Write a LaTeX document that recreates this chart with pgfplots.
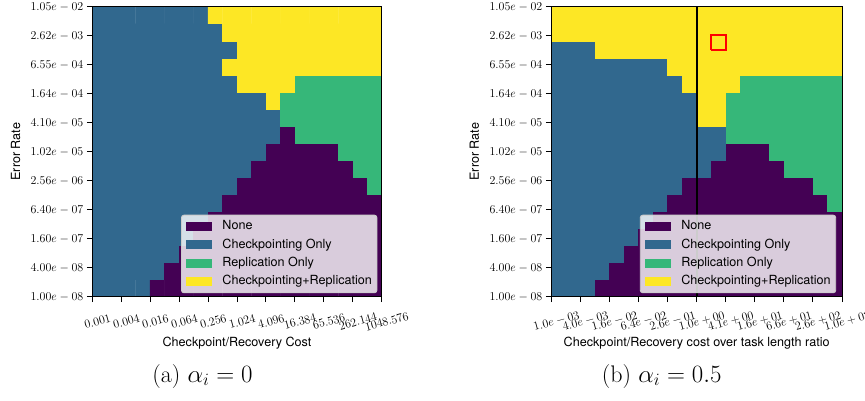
\documentclass[border=0pt]{standalone}
\usepackage{fontspec}
\usepackage{pgfplots}
\pgfplotsset{compat=1.18}
\newfontfamily\helv{TeX Gyre Heros}
\definecolor{vP}{RGB}{68,1,84}
\definecolor{vB}{RGB}{49,104,142}
\definecolor{vG}{RGB}{53,183,121}
\definecolor{vY}{RGB}{253,231,37}
\definecolor{legedge}{RGB}{204,204,204}
\newcommand{\tickfont}{\fontsize{12.4}{14}\selectfont}
\newcommand{\xtickfont}{\fontsize{12}{14}\selectfont}
\newcommand{\labfont}{\helv\fontsize{12.6}{15}\selectfont}

\pgfplotsset{
  heat/.style={
    scale only axis, height=290pt,
    xmin=-0.5, xmax=19.5, ymin=-0.5, ymax=16.5,
    axis on top,
    xtick={-0.5,1.5,3.5,5.5,7.5,9.5,11.5,13.5,15.5,17.5,19.5},
    ytick={-0.5,1.2,2.9,4.6,6.3,8.0,9.7,11.4,13.1,14.8,16.5},
    yticklabels={$1.00e-08$,$4.00e-08$,$1.60e-07$,$6.40e-07$,$2.56e-06$,$1.02e-05$,$4.10e-05$,$1.64e-04$,$6.55e-04$,$2.62e-03$,$1.05e-02$},
    tick align=outside, tick pos=left,
    major tick length=5.5pt,
    every tick/.style={black, line width=0.9pt},
    axis line style={black, line width=0.9pt},
    yticklabel style={font=\tickfont},
    xticklabel style={font=\xtickfont, rotate=15, anchor=center, yshift=-20pt},
    ylabel={Error Rate},
    ylabel style={font=\labfont, at={(axis description cs:-0.265,0.5)}, anchor=center},
    xlabel style={font=\labfont, at={(axis description cs:0.5,-0.1607)}, anchor=center},
    colormap={vir4}{rgb255=(68,1,84) rgb255=(49,104,142) rgb255=(53,183,121) rgb255=(253,231,37)},
    point meta min=0, point meta max=3,
    legend style={anchor=south east, fill=white, fill opacity=0.8, draw opacity=1, text opacity=1,
      draw=legedge, rounded corners=2.5pt, line width=0.9pt,
      inner xsep=0pt, inner ysep=2.2pt, row sep=0pt,
      nodes={inner xsep=5pt, inner ysep=3.4pt, text height=9pt, text depth=2.5pt},
      font=\labfont},
    legend cell align=left,
    legend image code/.code={\path[draw=none, fill=none] (0pt,-0.1pt) rectangle (36pt,0.1pt);\fill[#1, draw=none, fill opacity=1, sharp corners] (5pt,-4.6pt) rectangle (31pt,4.6pt);},
  }
}

\begin{document}
\begin{tikzpicture}
\path[use as bounding box] (0,0) rectangle (865pt,-401pt);

\begin{axis}[heat, at={(92.3pt,-296.7pt)}, anchor=south west, width=289.4pt,
  xticklabels={$0.001$,$0.004$,$0.016$,$0.064$,$0.256$,$1.024$,$4.096$,$16.384$,$65.536$,$262.144$,$1048.576$},
  xlabel={Checkpoint/Recovery Cost},
  legend style={at={(0.985,0.012)}}]
\addplot[matrix plot*, mesh/cols=20, point meta=explicit, forget plot] coordinates {
(0,0)[1] (1,0)[1] (2,0)[1] (3,0)[1] (4,0)[0] (5,0)[0] (6,0)[0] (7,0)[0] (8,0)[0] (9,0)[0] (10,0)[0] (11,0)[0] (12,0)[0] (13,0)[0] (14,0)[0] (15,0)[0] (16,0)[0] (17,0)[0] (18,0)[0] (19,0)[0]
(0,1)[1] (1,1)[1] (2,1)[1] (3,1)[1] (4,1)[1] (5,1)[0] (6,1)[0] (7,1)[0] (8,1)[0] (9,1)[0] (10,1)[0] (11,1)[0] (12,1)[0] (13,1)[0] (14,1)[0] (15,1)[0] (16,1)[0] (17,1)[0] (18,1)[0] (19,1)[0]
(0,2)[1] (1,2)[1] (2,2)[1] (3,2)[1] (4,2)[1] (5,2)[1] (6,2)[0] (7,2)[0] (8,2)[0] (9,2)[0] (10,2)[0] (11,2)[0] (12,2)[0] (13,2)[0] (14,2)[0] (15,2)[0] (16,2)[0] (17,2)[0] (18,2)[0] (19,2)[0]
(0,3)[1] (1,3)[1] (2,3)[1] (3,3)[1] (4,3)[1] (5,3)[1] (6,3)[1] (7,3)[0] (8,3)[0] (9,3)[0] (10,3)[0] (11,3)[0] (12,3)[0] (13,3)[0] (14,3)[0] (15,3)[0] (16,3)[0] (17,3)[0] (18,3)[0] (19,3)[0]
(0,4)[1] (1,4)[1] (2,4)[1] (3,4)[1] (4,4)[1] (5,4)[1] (6,4)[1] (7,4)[1] (8,4)[0] (9,4)[0] (10,4)[0] (11,4)[0] (12,4)[0] (13,4)[0] (14,4)[0] (15,4)[0] (16,4)[0] (17,4)[0] (18,4)[0] (19,4)[0]
(0,5)[1] (1,5)[1] (2,5)[1] (3,5)[1] (4,5)[1] (5,5)[1] (6,5)[1] (7,5)[1] (8,5)[1] (9,5)[0] (10,5)[0] (11,5)[0] (12,5)[0] (13,5)[0] (14,5)[0] (15,5)[0] (16,5)[0] (17,5)[0] (18,5)[0] (19,5)[0]
(0,6)[1] (1,6)[1] (2,6)[1] (3,6)[1] (4,6)[1] (5,6)[1] (6,6)[1] (7,6)[1] (8,6)[1] (9,6)[1] (10,6)[0] (11,6)[0] (12,6)[0] (13,6)[0] (14,6)[0] (15,6)[0] (16,6)[0] (17,6)[0] (18,6)[0] (19,6)[2]
(0,7)[1] (1,7)[1] (2,7)[1] (3,7)[1] (4,7)[1] (5,7)[1] (6,7)[1] (7,7)[1] (8,7)[1] (9,7)[1] (10,7)[1] (11,7)[0] (12,7)[0] (13,7)[0] (14,7)[0] (15,7)[0] (16,7)[0] (17,7)[0] (18,7)[2] (19,7)[2]
(0,8)[1] (1,8)[1] (2,8)[1] (3,8)[1] (4,8)[1] (5,8)[1] (6,8)[1] (7,8)[1] (8,8)[1] (9,8)[1] (10,8)[1] (11,8)[1] (12,8)[0] (13,8)[0] (14,8)[0] (15,8)[0] (16,8)[0] (17,8)[2] (18,8)[2] (19,8)[2]
(0,9)[1] (1,9)[1] (2,9)[1] (3,9)[1] (4,9)[1] (5,9)[1] (6,9)[1] (7,9)[1] (8,9)[1] (9,9)[1] (10,9)[1] (11,9)[1] (12,9)[1] (13,9)[0] (14,9)[2] (15,9)[2] (16,9)[2] (17,9)[2] (18,9)[2] (19,9)[2]
(0,10)[1] (1,10)[1] (2,10)[1] (3,10)[1] (4,10)[1] (5,10)[1] (6,10)[1] (7,10)[1] (8,10)[1] (9,10)[1] (10,10)[1] (11,10)[1] (12,10)[1] (13,10)[2] (14,10)[2] (15,10)[2] (16,10)[2] (17,10)[2] (18,10)[2] (19,10)[2]
(0,11)[1] (1,11)[1] (2,11)[1] (3,11)[1] (4,11)[1] (5,11)[1] (6,11)[1] (7,11)[1] (8,11)[1] (9,11)[1] (10,11)[1] (11,11)[1] (12,11)[3] (13,11)[2] (14,11)[2] (15,11)[2] (16,11)[2] (17,11)[2] (18,11)[2] (19,11)[2]
(0,12)[1] (1,12)[1] (2,12)[1] (3,12)[1] (4,12)[1] (5,12)[1] (6,12)[1] (7,12)[1] (8,12)[1] (9,12)[1] (10,12)[3] (11,12)[3] (12,12)[3] (13,12)[3] (14,12)[2] (15,12)[2] (16,12)[2] (17,12)[2] (18,12)[2] (19,12)[2]
(0,13)[1] (1,13)[1] (2,13)[1] (3,13)[1] (4,13)[1] (5,13)[1] (6,13)[1] (7,13)[1] (8,13)[1] (9,13)[3] (10,13)[3] (11,13)[3] (12,13)[3] (13,13)[3] (14,13)[3] (15,13)[3] (16,13)[3] (17,13)[3] (18,13)[3] (19,13)[3]
(0,14)[1] (1,14)[1] (2,14)[1] (3,14)[1] (4,14)[1] (5,14)[1] (6,14)[1] (7,14)[1] (8,14)[1] (9,14)[1] (10,14)[3] (11,14)[3] (12,14)[3] (13,14)[3] (14,14)[3] (15,14)[3] (16,14)[3] (17,14)[3] (18,14)[3] (19,14)[3]
(0,15)[1] (1,15)[1] (2,15)[1] (3,15)[1] (4,15)[1] (5,15)[1] (6,15)[1] (7,15)[1] (8,15)[1] (9,15)[3] (10,15)[3] (11,15)[3] (12,15)[3] (13,15)[3] (14,15)[3] (15,15)[3] (16,15)[3] (17,15)[3] (18,15)[3] (19,15)[3]
(0,16)[1] (1,16)[1] (2,16)[1] (3,16)[1] (4,16)[1] (5,16)[1] (6,16)[1] (7,16)[1] (8,16)[3] (9,16)[3] (10,16)[3] (11,16)[3] (12,16)[3] (13,16)[3] (14,16)[3] (15,16)[3] (16,16)[3] (17,16)[3] (18,16)[3] (19,16)[3]
};
\addlegendimage{fill=vP}\addlegendentry{None}
\addlegendimage{fill=vB}\addlegendentry{Checkpointing Only}
\addlegendimage{fill=vG}\addlegendentry{Replication Only}
\addlegendimage{fill=vY}\addlegendentry{Checkpointing+Replication}
\end{axis}

\begin{axis}[heat, at={(551.3pt,-296.7pt)}, anchor=south west, width=290.7pt,
  xticklabels={$1.0e-03$,$4.0e-03$,$1.6e-02$,$6.4e-02$,$2.6e-01$,$1.0e+00$,$4.1e+00$,$1.6e+01$,$6.6e+01$,$2.6e+02$,$1.0e+03$},
  xlabel={Checkpoint/Recovery cost over task length ratio},
  legend style={at={(0.98,0.012)}}]
\addplot[matrix plot*, mesh/cols=20, point meta=explicit, forget plot] coordinates {
(0,0)[1] (1,0)[1] (2,0)[1] (3,0)[0] (4,0)[0] (5,0)[0] (6,0)[0] (7,0)[0] (8,0)[0] (9,0)[0] (10,0)[0] (11,0)[0] (12,0)[0] (13,0)[0] (14,0)[0] (15,0)[0] (16,0)[0] (17,0)[0] (18,0)[0] (19,0)[0]
(0,1)[1] (1,1)[1] (2,1)[1] (3,1)[1] (4,1)[0] (5,1)[0] (6,1)[0] (7,1)[0] (8,1)[0] (9,1)[0] (10,1)[0] (11,1)[0] (12,1)[0] (13,1)[0] (14,1)[0] (15,1)[0] (16,1)[0] (17,1)[0] (18,1)[0] (19,1)[0]
(0,2)[1] (1,2)[1] (2,2)[1] (3,2)[1] (4,2)[1] (5,2)[0] (6,2)[0] (7,2)[0] (8,2)[0] (9,2)[0] (10,2)[0] (11,2)[0] (12,2)[0] (13,2)[0] (14,2)[0] (15,2)[0] (16,2)[0] (17,2)[0] (18,2)[0] (19,2)[0]
(0,3)[1] (1,3)[1] (2,3)[1] (3,3)[1] (4,3)[1] (5,3)[1] (6,3)[0] (7,3)[0] (8,3)[0] (9,3)[0] (10,3)[0] (11,3)[0] (12,3)[0] (13,3)[0] (14,3)[0] (15,3)[0] (16,3)[0] (17,3)[0] (18,3)[0] (19,3)[0]
(0,4)[1] (1,4)[1] (2,4)[1] (3,4)[1] (4,4)[1] (5,4)[1] (6,4)[1] (7,4)[0] (8,4)[0] (9,4)[0] (10,4)[0] (11,4)[0] (12,4)[0] (13,4)[0] (14,4)[0] (15,4)[0] (16,4)[0] (17,4)[0] (18,4)[0] (19,4)[0]
(0,5)[1] (1,5)[1] (2,5)[1] (3,5)[1] (4,5)[1] (5,5)[1] (6,5)[1] (7,5)[1] (8,5)[0] (9,5)[0] (10,5)[0] (11,5)[0] (12,5)[0] (13,5)[0] (14,5)[0] (15,5)[0] (16,5)[0] (17,5)[0] (18,5)[0] (19,5)[2]
(0,6)[1] (1,6)[1] (2,6)[1] (3,6)[1] (4,6)[1] (5,6)[1] (6,6)[1] (7,6)[1] (8,6)[1] (9,6)[0] (10,6)[0] (11,6)[0] (12,6)[0] (13,6)[0] (14,6)[0] (15,6)[0] (16,6)[0] (17,6)[0] (18,6)[2] (19,6)[2]
(0,7)[1] (1,7)[1] (2,7)[1] (3,7)[1] (4,7)[1] (5,7)[1] (6,7)[1] (7,7)[1] (8,7)[1] (9,7)[1] (10,7)[1] (11,7)[0] (12,7)[0] (13,7)[0] (14,7)[0] (15,7)[0] (16,7)[2] (17,7)[2] (18,7)[2] (19,7)[2]
(0,8)[1] (1,8)[1] (2,8)[1] (3,8)[1] (4,8)[1] (5,8)[1] (6,8)[1] (7,8)[1] (8,8)[1] (9,8)[1] (10,8)[1] (11,8)[1] (12,8)[0] (13,8)[0] (14,8)[0] (15,8)[2] (16,8)[2] (17,8)[2] (18,8)[2] (19,8)[2]
(0,9)[1] (1,9)[1] (2,9)[1] (3,9)[1] (4,9)[1] (5,9)[1] (6,9)[1] (7,9)[1] (8,9)[1] (9,9)[1] (10,9)[1] (11,9)[1] (12,9)[2] (13,9)[2] (14,9)[2] (15,9)[2] (16,9)[2] (17,9)[2] (18,9)[2] (19,9)[2]
(0,10)[1] (1,10)[1] (2,10)[1] (3,10)[1] (4,10)[1] (5,10)[1] (6,10)[1] (7,10)[1] (8,10)[1] (9,10)[1] (10,10)[3] (11,10)[3] (12,10)[2] (13,10)[2] (14,10)[2] (15,10)[2] (16,10)[2] (17,10)[2] (18,10)[2] (19,10)[2]
(0,11)[1] (1,11)[1] (2,11)[1] (3,11)[1] (4,11)[1] (5,11)[1] (6,11)[1] (7,11)[1] (8,11)[1] (9,11)[1] (10,11)[3] (11,11)[3] (12,11)[2] (13,11)[2] (14,11)[2] (15,11)[2] (16,11)[2] (17,11)[2] (18,11)[2] (19,11)[2]
(0,12)[1] (1,12)[1] (2,12)[1] (3,12)[1] (4,12)[1] (5,12)[1] (6,12)[1] (7,12)[1] (8,12)[1] (9,12)[3] (10,12)[3] (11,12)[3] (12,12)[3] (13,12)[2] (14,12)[2] (15,12)[2] (16,12)[2] (17,12)[2] (18,12)[2] (19,12)[2]
(0,13)[1] (1,13)[1] (2,13)[1] (3,13)[1] (4,13)[1] (5,13)[1] (6,13)[1] (7,13)[1] (8,13)[3] (9,13)[3] (10,13)[3] (11,13)[3] (12,13)[3] (13,13)[3] (14,13)[3] (15,13)[3] (16,13)[3] (17,13)[3] (18,13)[3] (19,13)[3]
(0,14)[1] (1,14)[1] (2,14)[1] (3,14)[3] (4,14)[3] (5,14)[3] (6,14)[3] (7,14)[3] (8,14)[3] (9,14)[3] (10,14)[3] (11,14)[3] (12,14)[3] (13,14)[3] (14,14)[3] (15,14)[3] (16,14)[3] (17,14)[3] (18,14)[3] (19,14)[3]
(0,15)[3] (1,15)[3] (2,15)[3] (3,15)[3] (4,15)[3] (5,15)[3] (6,15)[3] (7,15)[3] (8,15)[3] (9,15)[3] (10,15)[3] (11,15)[3] (12,15)[3] (13,15)[3] (14,15)[3] (15,15)[3] (16,15)[3] (17,15)[3] (18,15)[3] (19,15)[3]
(0,16)[3] (1,16)[3] (2,16)[3] (3,16)[3] (4,16)[3] (5,16)[3] (6,16)[3] (7,16)[3] (8,16)[3] (9,16)[3] (10,16)[3] (11,16)[3] (12,16)[3] (13,16)[3] (14,16)[3] (15,16)[3] (16,16)[3] (17,16)[3] (18,16)[3] (19,16)[3]
};
\addplot[black, line width=1.8pt, no markers, forget plot] coordinates {(9.5,-0.5) (9.5,16.5)};
\addplot[red, line width=2pt, no markers, line join=miter, forget plot] coordinates {(10.5,13.95) (11.5,13.95) (11.5,14.85) (10.5,14.85) (10.5,13.95)};
\addlegendimage{fill=vP}\addlegendentry{None}
\addlegendimage{fill=vB}\addlegendentry{Checkpointing Only}
\addlegendimage{fill=vG}\addlegendentry{Replication Only}
\addlegendimage{fill=vY}\addlegendentry{Checkpointing+Replication}
\end{axis}

\node[anchor=base] at (202.5pt,-382pt) {\fontsize{24}{28}\selectfont (a) $\alpha_i = 0$};
\node[anchor=base] at (661.7pt,-382pt) {\fontsize{24}{28}\selectfont (b) $\alpha_i = 0.5$};
\end{tikzpicture}
\end{document}
